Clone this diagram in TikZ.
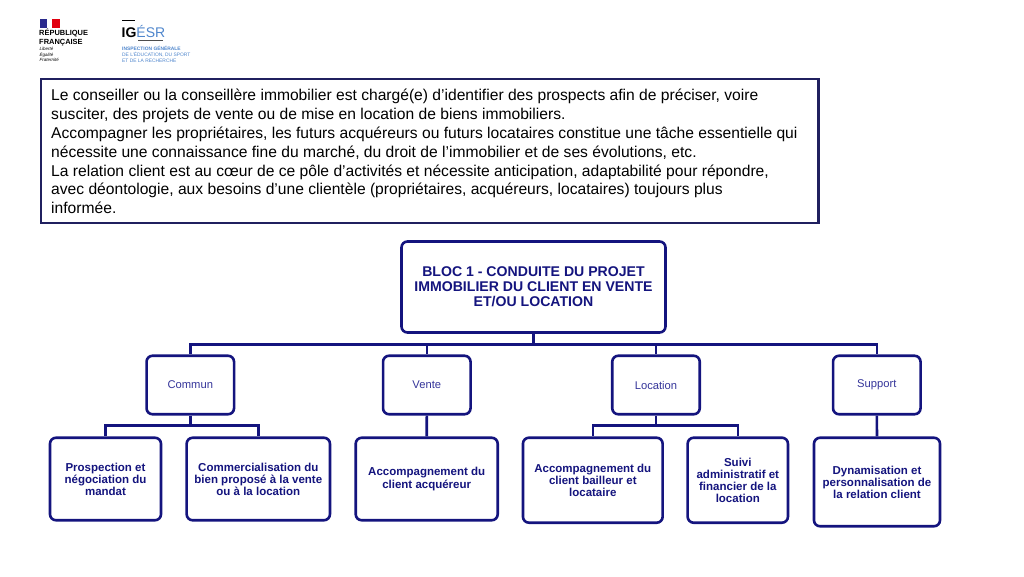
\documentclass[tikz,border=0pt]{standalone}
\usepackage{fontspec}
\usepackage{xcolor}
\setmainfont{Liberation Sans}
\definecolor{navy}{HTML}{14147E}
\definecolor{framenavy}{HTML}{20205F}
\definecolor{labelblue}{HTML}{35359A}
\definecolor{igblue}{HTML}{4F86CC}
\definecolor{frblue}{HTML}{2A2A8C}
\definecolor{frred}{HTML}{E1000F}
\tikzset{
  box/.style={draw=navy, line width=2.6pt, rounded corners=6pt, fill=white, align=center, inner sep=0pt},
  leaf/.style={box, text=navy, font=\fontsize{11.5}{12.1}\selectfont\bfseries},
  pole/.style={box, text=labelblue, font=\fontsize{11.2}{13}\selectfont, minimum width=87.5pt, minimum height=58.5pt},
  link/.style={draw=navy, line width=2.6pt}
}
\begin{document}
\begin{tikzpicture}[x=1pt, y=-1pt]
  \useasboundingbox (0,0) rectangle (1024,576);

  % Logos
  \fill[frblue] (39.5,19) rectangle (47,27.5);
  \fill[frred] (52,19) rectangle (60,27.5);
  \node[anchor=west, inner sep=0pt, align=left, font=\fontsize{7.45}{9}\selectfont\bfseries] (rf) at (39,37.5) {RÉPUBLIQUE\\FRANÇAISE};
  \node[anchor=west, inner sep=0pt, align=left, font=\fontsize{4.5}{5.5}\selectfont\itshape] (devise) at (39.5,54.7) {Liberté\\Égalité\\Fraternité};
  \fill (122,19.5) rectangle (135,20.5);
  \fill[black!70] (138,39.7) rectangle (163,40.7);
  \node[anchor=west, inner sep=0pt, font=\fontsize{14}{14}\selectfont] (igesr) at (121.5,31) {\textbf{IG}\textcolor{igblue}{ÉSR}};
  \node[anchor=north west, inner sep=0pt, align=left, text=igblue, font=\fontsize{4.9}{6}\selectfont] (insp) at (122,45.5) {\textbf{INSPECTION GÉNÉRALE}\\DE L’ÉDUCATION, DU SPORT\\ET DE LA RECHERCHE};

  % Intro text
  \node[draw=framenavy, line width=2.4pt, anchor=north west, minimum width=777.7pt, minimum height=144pt, inner sep=0pt] (intro) at (39.5,77.5) {};
  \node[anchor=north west, inner sep=0pt, align=left, font=\fontsize{15.63}{18.85}\selectfont] (introtext) at (51,89) {Le conseiller ou la conseillère immobilier est chargé(e) d’identifier des prospects afin de préciser, voire\\
  susciter, des projets de vente ou de mise en location de biens immobiliers.\\
  Accompagner les propriétaires, les futurs acquéreurs ou futurs locataires constitue une tâche essentielle qui\\
  nécessite une connaissance fine du marché, du droit de l’immobilier et de ses évolutions, etc.\\
  La relation client est au cœur de ce pôle d’activités et nécessite anticipation, adaptabilité pour répondre,\\
  avec déontologie, aux besoins d’une clientèle (propriétaires, acquéreurs, locataires) toujours plus\\
  informée.};

  % Top box
  \node[box, text=navy, font=\fontsize{14.1}{15}\selectfont\bfseries, minimum width=264pt, minimum height=91pt] (bloc) at (533.5,287) {BLOC 1 - CONDUITE DU PROJET\\IMMOBILIER DU CLIENT EN VENTE\\ET/OU LOCATION};

  % Poles
  \node[pole] (commun) at (190.3,385) {Commun};
  \node[pole] (vente) at (426.8,385) {Vente};
  \node[pole] (location) at (656,385) {Location};
  \node[pole] (support) at (876.8,385) {Support};

  % Leaves
  \node[leaf, minimum width=111pt, minimum height=82.5pt] (prospection) at (105.5,479) {Prospection et\\négociation du\\mandat};
  \node[leaf, minimum width=143.3pt, minimum height=82.5pt] (commercial) at (258.3,479) {Commercialisation du\\bien proposé à la vente\\ou à la location};
  \node[leaf, minimum width=142pt, minimum height=82.5pt] (acquereur) at (426.7,479) {Accompagnement du\\client acquéreur};
  \node[leaf, minimum width=139.7pt, minimum height=85pt] (bailleur) at (592.8,480.2) {Accompagnement du\\client bailleur et\\locataire};
  \node[leaf, minimum width=100.3pt, minimum height=85pt] (suivi) at (737.8,480.2) {Suivi\\administratif et\\financier de la\\location};
  \node[leaf, minimum width=126pt, minimum height=88.5pt] (dynamisation) at (877,482) {Dynamisation et\\personnalisation de\\la relation client};

  % Connectors
  \coordinate (bus) at (533.5,344.5);
  \coordinate (buscommun) at (190.3,425.7);
  \coordinate (buslocation) at (656,425.7);
  \draw[link] (bloc.south) -- (bus);
  \draw[link] (bus) -| (commun.north);
  \draw[link] (bus) -| (vente.north);
  \draw[link] (bus) -| (location.north);
  \draw[link] (bus) -| (support.north);
  \draw[link] (commun.south) -- (buscommun);
  \draw[link] (buscommun) -| (prospection.north);
  \draw[link] (buscommun) -| (commercial.north);
  \draw[link] (vente.south) -- (acquereur.north);
  \draw[link] (location.south) -- (buslocation);
  \draw[link] (buslocation) -| (bailleur.north);
  \draw[link] (buslocation) -| (suivi.north);
  \draw[link] (support.south) -- (dynamisation.north);
\end{tikzpicture}
\end{document}
